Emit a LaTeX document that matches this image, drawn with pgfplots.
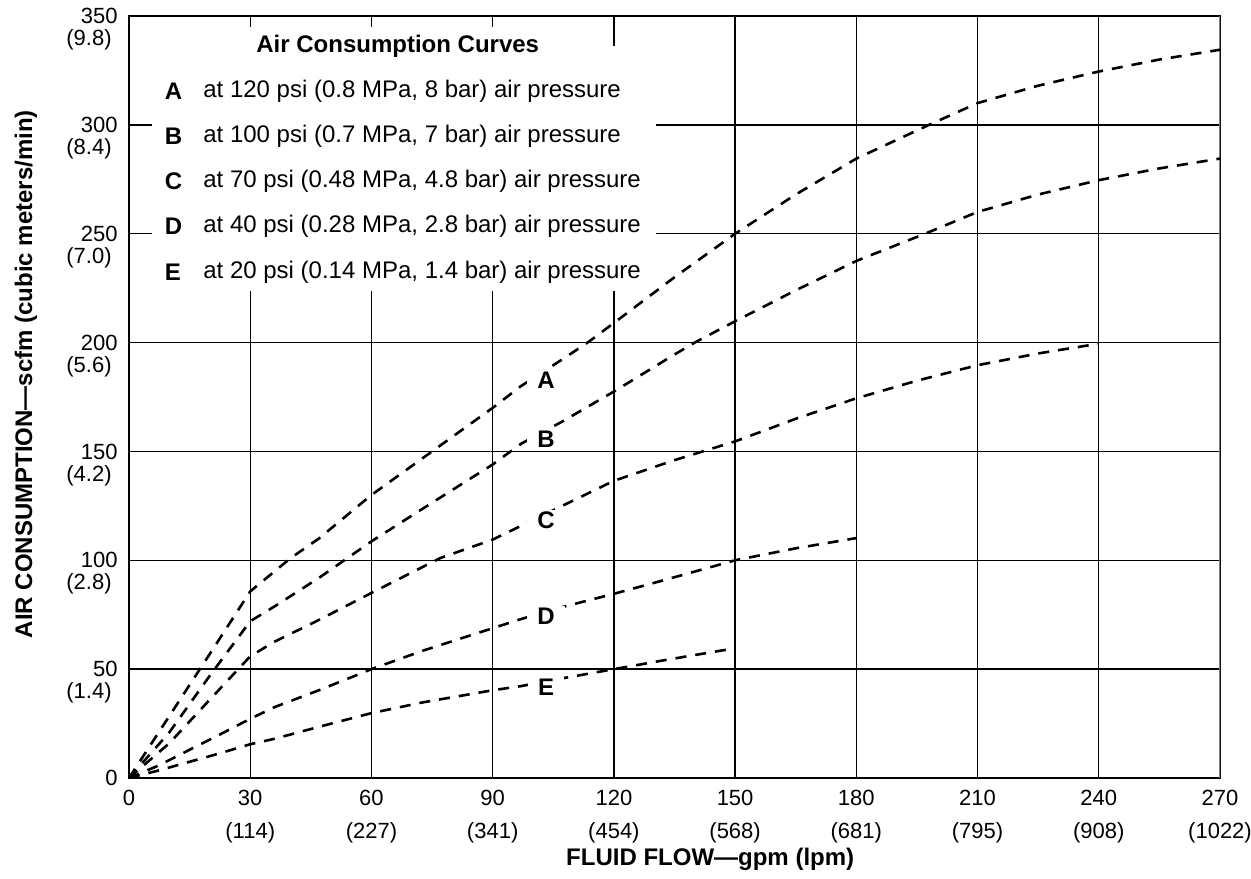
\documentclass[border=0pt]{standalone}
\usepackage{fontspec}
\setmainfont{Liberation Sans}
\usepackage{pgfplots}
\pgfplotsset{compat=1.18}

% tick label with metric value on a second line
\newcommand{\yt}[2]{#1\makebox[0pt][r]{\raisebox{-11pt}[0pt][0pt]{(#2)\hspace{3pt}}}}
\newcommand{\lgf}{\fontsize{12}{14.4}\selectfont}
\tikzset{
   curve/.style={black, line width=1.3pt, dash pattern=on 5.5pt off 4.5pt, mark=none},
   letter/.style={fill=white, inner xsep=5pt, inner ysep=1pt, font=\lgf\bfseries},
   key/.style={anchor=west, inner sep=0pt, font=\lgf\bfseries},
   keytext/.style={anchor=west, inner sep=0pt, font=\lgf},
}

\begin{document}
\begin{tikzpicture}
\useasboundingbox (-64.5pt,-50pt) rectangle (561pt,389pt);
\begin{axis}[
   at={(0,0)}, anchor=south west,
   scale only axis,
   width=545.5pt, height=381pt,
   xmin=0, xmax=270, ymin=0, ymax=350,
   xtick={0,30,...,270},
   ytick={0,50,...,350},
   xticklabels={0,{30\\[3pt](114)},{60\\[3pt](227)},{90\\[3pt](341)},{120\\[3pt](454)},
      {150\\[3pt](568)},{180\\[3pt](681)},{210\\[3pt](795)},{240\\[3pt](908)},{270\\[3pt](1022)}},
   yticklabels={0,\yt{50}{1.4},\yt{100}{2.8},\yt{150}{4.2},\yt{200}{5.6},
      \yt{250}{7.0},\yt{300}{8.4},\yt{350}{9.8}},
   major tick length=0pt,
   tick label style={font=\fontsize{11}{13.2}\selectfont},
   xticklabel style={align=center, anchor=north, inner sep=0pt, yshift=-6pt},
   yticklabel style={anchor=east, inner sep=0pt, xshift=-5.5pt},
   /pgf/number format/assume math mode=true,
   grid=major,
   grid style={black, line width=0.65pt},
   axis line style={black, line width=0.8pt},
   xlabel={FLUID FLOW---gpm (lpm)},
   ylabel={AIR CONSUMPTION---scfm (cubic meters/min)},
   xlabel style={font=\lgf\bfseries, at={(axis description cs:0.5327,-0.107)}, anchor=center},
   ylabel style={font=\lgf\bfseries, at={(axis description cs:-0.0945,0.53)}, anchor=center},
]
% legend box hides the grid
\fill[white] (axis cs:5.7,223.7) rectangle (axis cs:130.4,336.4);
\fill[white] (axis cs:25,336.4) rectangle (axis cs:110,345.1);
\draw[gray, line width=0.8pt] (rel axis cs:1,0) -- (rel axis cs:1,1);

% A: 120 psi
\addplot[curve] coordinates {
   (0,0) (10,28.5) (20,57) (30,85.7) (40,101) (47,110) (60,130) (75,150)
   (90,170) (97,180) (107,192) (113.5,200) (120,209) (135,230) (150,250)
   (165,268) (180,284.5) (198,300) (210,310) (225,318) (240,324.5) (255,330) (270,334.5)
};
% B: 100 psi
\addplot[curve] coordinates {
   (0,0) (10,21) (20,47) (30,72) (36,78.8) (47,91.9) (60,108.7) (72.6,123.6)
   (90,144) (97,153.5) (107,163.5) (120,177.5) (134,193.4) (140,200) (150,209.8)
   (165,224) (180,237.5) (197,250) (210,260) (225,268) (240,274.6) (255,280) (270,284.5)
};
% C: 70 psi
\addplot[curve] coordinates {
   (0,0) (10,16) (20,36) (30,55.9) (36,62.6) (47,72.6) (60,85) (77,101)
   (90,109.5) (105,123) (120,136.5) (135,146) (150,154.6) (165,165) (180,174.4)
   (195,182.5) (210,189.6) (225,195) (240,199.5)
};
% D: 40 psi
\addplot[curve] coordinates {
   (0,0) (7.4,5.8) (16.4,14.3) (22.2,19.7) (30,27.2) (36.2,32.7) (47,40.3)
   (60,50) (72.6,58.4) (90,68.8) (97,73) (107,78.4) (120,84.6) (134,91.7)
   (150,100) (165,105.5) (180,110.2)
};
% E: 20 psi
\addplot[curve] coordinates {
   (0,0) (7.4,3.5) (22.2,11.2) (30,15.5) (36.2,18.1) (47,23.5) (60,29.8)
   (72.6,34.7) (90,40.3) (97,42.2) (107,45.7) (120,50) (134,54.6) (150,59.6)
};

% curve letters
\node[letter] at (axis cs:103.2,182.7) {A};
\node[letter] at (axis cs:103.2,155.8) {B};
\node[letter] at (axis cs:103.2,118.2) {C};
\node[letter] at (axis cs:103.2,74.5) {D};
\node[letter] at (axis cs:103.2,41.6) {E};

% legend
\node[font=\lgf\bfseries] at (axis cs:66.5,336) {Air Consumption Curves};
\node[key] at (axis cs:8.8,315.5) {A};
\node[key] at (axis cs:8.8,294.8) {B};
\node[key] at (axis cs:8.8,274) {C};
\node[key] at (axis cs:8.8,253.3) {D};
\node[key] at (axis cs:8.8,232.5) {E};
\node[keytext] at (axis cs:18.3,315.5) {at 120 psi (0.8 MPa, 8 bar) air pressure};
\node[keytext] at (axis cs:18.3,294.8) {at 100 psi (0.7 MPa, 7 bar) air pressure};
\node[keytext] at (axis cs:18.3,274) {at 70 psi (0.48 MPa, 4.8 bar) air pressure};
\node[keytext] at (axis cs:18.3,253.3) {at 40 psi (0.28 MPa, 2.8 bar) air pressure};
\node[keytext] at (axis cs:18.3,232.5) {at 20 psi (0.14 MPa, 1.4 bar) air pressure};
\end{axis}
\end{tikzpicture}
\end{document}
